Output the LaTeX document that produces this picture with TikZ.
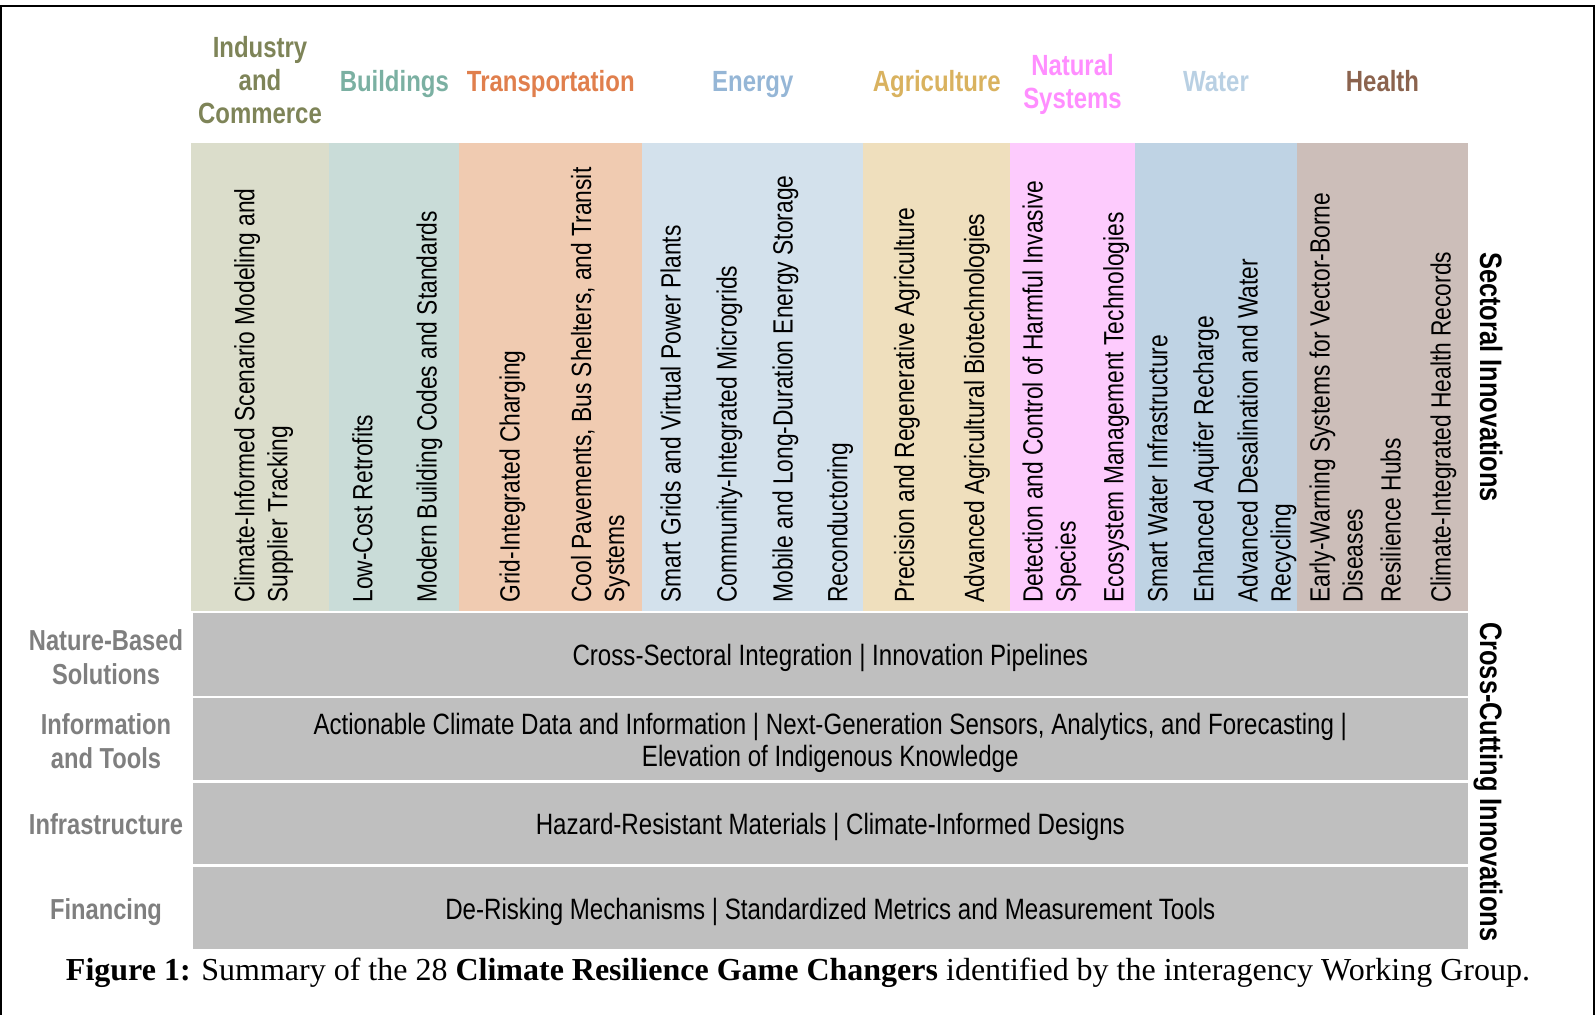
\documentclass[tikz,border=0pt]{standalone}
\usepackage{fontspec}
\setmainfont{Liberation Serif}
\newfontfamily\narrowsans[FakeStretch=0.82]{Liberation Sans}

% sector column fills
\definecolor{fillInd}{HTML}{DBDDCB}
\definecolor{fillBld}{HTML}{C9DCD8}
\definecolor{fillTra}{HTML}{F0CBB1}
\definecolor{fillEne}{HTML}{D3E1EC}
\definecolor{fillAgr}{HTML}{EFDFBD}
\definecolor{fillNat}{HTML}{FDCBFD}
\definecolor{fillWat}{HTML}{BFD3E4}
\definecolor{fillHea}{HTML}{CCBEB9}
% sector title colours
\definecolor{txtInd}{HTML}{7E8458}
\definecolor{txtBld}{HTML}{7BB0A2}
\definecolor{txtTra}{HTML}{E07F4D}
\definecolor{txtEne}{HTML}{95B6D6}
\definecolor{txtAgr}{HTML}{D9B25F}
\definecolor{txtNat}{HTML}{FF8EFF}
\definecolor{txtWat}{HTML}{B9D0E3}
\definecolor{txtHea}{HTML}{8B634E}
% cross-cutting band and labels
\definecolor{bandgray}{HTML}{BFBFBF}
\definecolor{labelgray}{HTML}{7F7F7F}

\begin{document}
\begin{tikzpicture}[x=0.5pt,y=-0.5pt,
  item/.style={font=\narrowsans\fontsize{13.9}{16.5}\selectfont,
    rotate=90, anchor=base west, inner sep=0, align=left},
  sectortitle/.style={font=\narrowsans\bfseries\fontsize{14.6}{16.6}\selectfont,
    align=center, anchor=base, inner sep=0},
  bandtext/.style={font=\narrowsans\fontsize{14.7}{16.35}\selectfont,
    align=center, anchor=base, inner sep=0},
  bandlabel/.style={font=\narrowsans\bfseries\fontsize{14.45}{16.85}\selectfont,
    text=labelgray, align=center, anchor=base, inner sep=0},
  sidetitle/.style={font=\narrowsans\bfseries\fontsize{15.5}{18}\selectfont,
    rotate=-90, anchor=base west, inner sep=0},
  captiontext/.style={font=\fontsize{16}{19}\selectfont, anchor=base, inner sep=0}
]
\useasboundingbox (0,0) rectangle (1596,1015);

% outer frame (open at the bottom)
\draw[line width=1pt] (1,1016) -- (1,6) -- (1594,6) -- (1594,1016);

% sector columns
\fill[fillInd] (191,143.3) rectangle (329.3,611.5);
\fill[fillBld] (329.3,143.3) rectangle (459.3,611.5);
\fill[fillTra] (459.3,143.3) rectangle (642.3,611.5);
\fill[fillEne] (642.3,143.3) rectangle (863.3,611.5);
\fill[fillAgr] (863.3,143.3) rectangle (1010,611.5);
\fill[fillNat] (1010,143.3) rectangle (1135,611.5);
\fill[fillWat] (1135,143.3) rectangle (1297.3,611.5);
\fill[fillHea] (1297.3,143.3) rectangle (1467.7,611.5);

% cross-cutting bands
\fill[bandgray] (193,612.7) rectangle (1467.7,695.7);
\fill[bandgray] (193,698.3) rectangle (1467.7,779.5);
\fill[bandgray] (193,782.7) rectangle (1467.7,863.5);
\fill[bandgray] (193,866.7) rectangle (1467.7,949);

% sector titles (multi-line nodes sit on their last baseline)
\node[sectortitle, text=txtInd] (hInd) at (260,124) {Industry\\and\\Commerce};
\node[sectortitle, text=txtBld] (hBld) at (394.3,91.3) {Buildings};
\node[sectortitle, text=txtTra] (hTra) at (550.8,91.3) {Transportation};
\node[sectortitle, text=txtEne] (hEne) at (752.8,91.3) {Energy};
\node[sectortitle, text=txtAgr] (hAgr) at (936.7,91.3) {Agriculture};
\node[sectortitle, text=txtNat] (hNat) at (1072.5,108.3) {Natural\\Systems};
\node[sectortitle, text=txtWat] (hWat) at (1216,91.3) {Water};
\node[sectortitle, text=txtHea] (hHea) at (1382.5,91.3) {Health};

% sectoral innovations
\node[item] (i1)  at (287.3,603)  {Climate-Informed Scenario Modeling and\\Supplier Tracking};
\node[item] (i2)  at (372.3,603)  {Low-Cost Retrofits};
\node[item] (i3)  at (436.7,603)  {Modern Building Codes and Standards};
\node[item] (i4)  at (519.5,603)  {Grid-Integrated Charging};
\node[item] (i5)  at (624,603)    {Cool Pavements, Bus Shelters, and Transit\\Systems};
\node[item] (i6)  at (680.7,603)  {Smart Grids and Virtual Power Plants};
\node[item] (i7)  at (736.7,603)  {Community-Integrated Microgrids};
\node[item] (i8)  at (792.7,603)  {Mobile and Long-Duration Energy Storage};
\node[item] (i9)  at (847.3,603)  {Reconductoring};
\node[item] (i10) at (914,603)    {Precision and Regenerative Agriculture};
\node[item] (i11) at (984,603)    {Advanced Agricultural Biotechnologies};
\node[item] (i12) at (1075.7,603) {Detection and Control of Harmful Invasive\\Species};
\node[item] (i13) at (1123.3,603) {Ecosystem Management Technologies};
\node[item] (i14) at (1167.3,603) {Smart Water Infrastructure};
\node[item] (i15) at (1213.3,603) {Enhanced Aquifer Recharge};
\node[item] (i16) at (1290.7,603) {Advanced Desalination and Water\\Recycling};
\node[item] (i17) at (1362.7,603) {Early-Warning Systems for Vector-Borne\\Diseases};
\node[item] (i18) at (1400.7,603) {Resilience Hubs};
\node[item] (i19) at (1450.7,603) {Climate-Integrated Health Records};

% cross-cutting innovations
\node[bandtext] (b1) at (830.3,666) {Cross-Sectoral Integration | Innovation Pipelines};
\node[bandtext] (b2) at (830.3,766.7) {Actionable Climate Data and Information | Next-Generation Sensors, Analytics, and Forecasting |\\Elevation of Indigenous Knowledge};
\node[bandtext] (b3) at (830.3,834) {Hazard-Resistant Materials | Climate-Informed Designs};
\node[bandtext] (b4) at (830.3,919) {De-Risking Mechanisms | Standardized Metrics and Measurement Tools};

% band labels
\node[bandlabel] (l1) at (106,684.3) {Nature-Based\\Solutions};
\node[bandlabel] (l2) at (106,768.3) {Information\\and Tools};
\node[bandlabel] (l3) at (106,834)   {Infrastructure};
\node[bandlabel] (l4) at (106,919.3) {Financing};

% side titles
\node[sidetitle] (sect)  at (1480,251.7) {Sectoral Innovations};
\node[sidetitle] (cross) at (1480,621.7) {Cross-Cutting Innovations};

% caption
\node[captiontext] (cap) at (798,980) {\textbf{Figure 1:} Summary of the 28 \textbf{Climate Resilience Game Changers} identified by the interagency Working Group.};
\end{tikzpicture}
\end{document}
